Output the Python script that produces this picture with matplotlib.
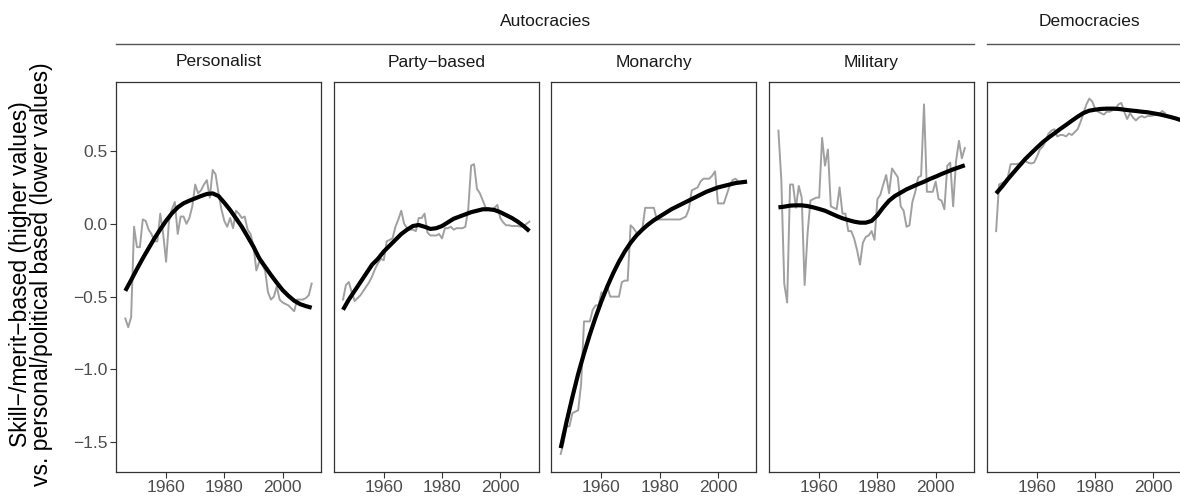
import numpy as np
import matplotlib
matplotlib.use("Agg")
import matplotlib.pyplot as plt

plt.rcParams['font.family'] = ['Liberation Sans', 'DejaVu Sans']

years = np.arange(1946, 2011)
smoothYears = np.arange(1946, 2011, 2)

panelNames = ["Personalist", "Party\u2212based", "Monarchy", "Military", ""]
groupNames = ["Autocracies", "Democracies"]

personalist = [-0.65, -0.71, -0.64, -0.02, -0.16, -0.16, 0.03, 0.02, -0.04, -0.07,
               -0.12, -0.12, 0.07, -0.07, -0.26, 0.02, 0.10, 0.15, -0.07, 0.05,
               0.05, 0.00, 0.04, 0.12, 0.27, 0.21, 0.23, 0.27, 0.30, 0.18,
               0.37, 0.34, 0.21, 0.10, 0.02, -0.02, 0.04, -0.03, 0.09, 0.07,
               0.04, 0.05, -0.04, -0.07, -0.15, -0.32, -0.26, -0.28, -0.32, -0.47,
               -0.52, -0.50, -0.43, -0.52, -0.54, -0.55, -0.56, -0.58, -0.60, -0.52,
               -0.52, -0.52, -0.51, -0.49, -0.41]
partyBased = [-0.52, -0.42, -0.40, -0.47, -0.53, -0.51, -0.49, -0.46, -0.43, -0.40,
              -0.36, -0.31, -0.27, -0.24, -0.25, -0.12, -0.11, -0.10, -0.02, 0.03,
              0.09, 0.00, -0.03, -0.04, -0.04, -0.05, 0.04, 0.04, 0.07, -0.06,
              -0.08, -0.08, -0.08, -0.07, -0.10, -0.03, -0.03, -0.02, -0.04, -0.03,
              -0.03, -0.03, -0.02, 0.10, 0.40, 0.41, 0.24, 0.21, 0.16, 0.11,
              0.105, 0.10, 0.11, 0.13, 0.04, 0.01, -0.01, -0.01, -0.015, -0.015,
              -0.015, -0.02, -0.015, 0.00, 0.015]
monarchy = [-1.58, -1.50, -1.39, -1.39, -1.30, -1.29, -1.28, -1.10, -0.67, -0.67,
            -0.67, -0.59, -0.56, -0.56, -0.47, -0.49, -0.43, -0.50, -0.50, -0.50,
            -0.50, -0.40, -0.39, -0.39, -0.01, -0.03, -0.06, -0.07, -0.04, 0.11,
            0.11, 0.11, 0.11, 0.03, 0.03, 0.03, 0.03, 0.03, 0.03, 0.03,
            0.03, 0.03, 0.04, 0.05, 0.10, 0.23, 0.24, 0.25, 0.29, 0.31,
            0.31, 0.31, 0.33, 0.36, 0.14, 0.14, 0.14, 0.20, 0.26, 0.30,
            0.31, 0.29]
military = [0.64, 0.30, -0.41, -0.54, 0.27, 0.27, 0.11, 0.26, 0.18, -0.42,
            -0.07, 0.16, 0.17, 0.18, 0.18, 0.59, 0.40, 0.51, 0.12, 0.11,
            0.10, 0.25, 0.07, 0.07, -0.05, -0.05, -0.10, -0.18, -0.28, -0.13,
            -0.09, -0.08, -0.05, -0.11, 0.17, 0.20, 0.27, 0.335, 0.21, 0.38,
            0.35, 0.32, 0.12, 0.09, -0.02, -0.01, 0.15, 0.22, 0.32, 0.33,
            0.82, 0.22, 0.22, 0.22, 0.29, 0.17, 0.16, 0.10, 0.40, 0.42,
            0.12, 0.43, 0.57, 0.45, 0.52]
democracy = [-0.05, 0.27, 0.28, 0.29, 0.32, 0.41, 0.41, 0.41, 0.415, 0.43,
             0.43, 0.42, 0.415, 0.42, 0.46, 0.51, 0.53, 0.57, 0.62, 0.64,
             0.65, 0.60, 0.61, 0.61, 0.60, 0.62, 0.61, 0.63, 0.65, 0.70,
             0.76, 0.82, 0.86, 0.84, 0.79, 0.77, 0.76, 0.75, 0.77, 0.77,
             0.78, 0.79, 0.82, 0.83, 0.77, 0.72, 0.76, 0.73, 0.71, 0.73,
             0.74, 0.73, 0.74, 0.74, 0.745, 0.75, 0.75, 0.775, 0.76]

personalistSmooth = [-0.46, -0.386, -0.31, -0.237, -0.168, -0.10, -0.038, 0.021, 0.072, 0.113,
                     0.141, 0.159, 0.175, 0.191, 0.205, 0.209, 0.191, 0.145, 0.095, 0.038,
                     -0.02, -0.088, -0.157, -0.237, -0.294, -0.351, -0.404, -0.455, -0.494, -0.528,
                     -0.551, -0.565, -0.576]
partySmooth = [-0.59, -0.52, -0.46, -0.40, -0.34, -0.28, -0.24, -0.19, -0.15, -0.11,
               -0.07, -0.04, -0.015, -0.008, -0.02, -0.035, -0.03, -0.015, 0.01, 0.035,
               0.05, 0.065, 0.08, 0.09, 0.10, 0.10, 0.095, 0.08, 0.06, 0.04,
               0.015, -0.015, -0.05]
monarchySmooth = [-1.54, -1.36, -1.19, -1.03, -0.89, -0.76, -0.64, -0.53, -0.43, -0.34,
                  -0.26, -0.19, -0.13, -0.08, -0.04, -0.005, 0.025, 0.05, 0.075, 0.10,
                  0.12, 0.14, 0.16, 0.18, 0.20, 0.22, 0.235, 0.25, 0.26, 0.27,
                  0.28, 0.285, 0.29]
militarySmooth = [0.113, 0.118, 0.125, 0.127, 0.127, 0.122, 0.113, 0.102, 0.09, 0.072,
                  0.054, 0.038, 0.026, 0.015, 0.008, 0.008, 0.02, 0.06, 0.113, 0.159,
                  0.191, 0.214, 0.237, 0.255, 0.273, 0.289, 0.308, 0.324, 0.342, 0.358,
                  0.374, 0.388, 0.402]
democracySmooth = [0.209, 0.255, 0.306, 0.353, 0.399, 0.445, 0.484, 0.523, 0.56, 0.592,
                   0.621, 0.651, 0.679, 0.708, 0.736, 0.761, 0.777, 0.784, 0.789, 0.791,
                   0.791, 0.789, 0.784, 0.779, 0.775, 0.77, 0.766, 0.759, 0.752, 0.743,
                   0.733, 0.722, 0.708]

grayData = [personalist, partyBased, monarchy, military, democracy]
smoothData = [personalistSmooth, partySmooth, monarchySmooth, militarySmooth, democracySmooth]

W, H = 1180, 498
fig = plt.figure(figsize=(W / 100, H / 100), dpi=100)

left0 = 116
step = 217.7
pw = 205
top = 81.7
bottom = 471.7
stripSize = 12.5

axes = []
for i in range(5):
    l = left0 + i * step
    ax = fig.add_axes([l / W, (H - bottom) / H, pw / W, (bottom - top) / H])
    g = grayData[i]
    ax.plot(years[:len(g)], g, color='#a0a0a0', lw=1.4, zorder=2)
    ax.plot(smoothYears, smoothData[i], color='black', lw=3.0, solid_capstyle='butt', zorder=3)
    ax.set_xlim(1942.8, 2013.2)
    ax.set_ylim(-1.702, 0.976)
    ax.set_xticks([1960, 1980, 2000])
    ax.set_yticks([-1.5, -1.0, -0.5, 0.0, 0.5])
    ax.tick_params(direction='out', length=4, width=0.8, color='#333333',
                   labelcolor='#4d4d4d', labelsize=12.5, pad=2)
    for s in ax.spines.values():
        s.set_color('#333333')
        s.set_linewidth(0.9)
    if i > 0:
        ax.tick_params(axis='y', left=False, labelleft=False)
    if panelNames[i]:
        fig.text((l + pw / 2) / W, 1 - 62 / H, panelNames[i], ha='center', va='center',
                 fontsize=stripSize, color='#1a1a1a')
    axes.append(ax)

axes[0].set_yticklabels(['\u22121.5', '\u22121.0', '\u22120.5', '0.0', '0.5'])

# group strips
autoL = left0
autoR = left0 + 3 * step + pw
demL = left0 + 4 * step
demR = demL + pw
fig.add_artist(plt.Line2D([autoL / W, autoR / W], [1 - 44 / H, 1 - 44 / H], color='#555555', lw=1))
fig.add_artist(plt.Line2D([demL / W, demR / W], [1 - 44 / H, 1 - 44 / H], color='#555555', lw=1))
fig.text((autoL + autoR) / 2 / W, 1 - 22 / H, groupNames[0], ha='center', va='center',
         fontsize=stripSize, color='#1a1a1a')
fig.text((demL + demR) / 2 / W, 1 - 22 / H, groupNames[1], ha='center', va='center',
         fontsize=stripSize, color='#1a1a1a')

fig.text(31 / W, 1 - (top + bottom - 6) / 2 / H,
         "Skill\u2212/merit\u2212based (higher values)\nvs. personal/political based (lower values)",
         rotation=90, ha='center', va='center', fontsize=16.5, linespacing=0.92)

fig.savefig("out.png", dpi=100)
